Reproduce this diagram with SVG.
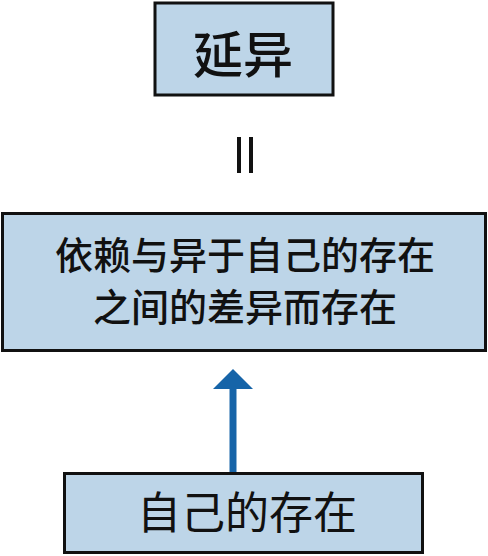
<svg xmlns="http://www.w3.org/2000/svg" width="488" height="556" viewBox="0 0 488 556">
<style>
.box{fill:#bdd5e8;stroke:#111;stroke-width:3}
.t{font-family:"Noto Sans CJK SC","Noto Sans",sans-serif;fill:#111;text-anchor:middle}
.sep{stroke:#111;stroke-width:4}
</style>
<g id="node-yanyi">
<rect class="box" x="155" y="3" width="178" height="92"/>
<text class="t" x="243" y="73" font-size="50" font-weight="500">延异</text>
</g>
<g id="node-middle">
<rect class="box" x="2.5" y="213.5" width="483" height="137"/>
<text class="t" x="245" y="269" font-size="38" font-weight="500">依赖与异于自己的存在</text>
<text class="t" x="245" y="321" font-size="38" font-weight="500">之间的差异而存在</text>
</g>
<g id="node-self">
<rect class="box" x="64.5" y="473.5" width="358" height="79"/>
<text class="t" x="247" y="529" font-size="44">自己的存在</text>
</g>
<g id="connectors">
<line class="sep" x1="239" y1="137" x2="239" y2="173"/>
<line class="sep" x1="251" y1="137" x2="251" y2="173"/>
<line x1="233" y1="472" x2="233" y2="387" stroke="#1664a8" stroke-width="7"/>
<polygon points="233,369 253,389 213,389" fill="#1664a8"/>
</g>
</svg>
